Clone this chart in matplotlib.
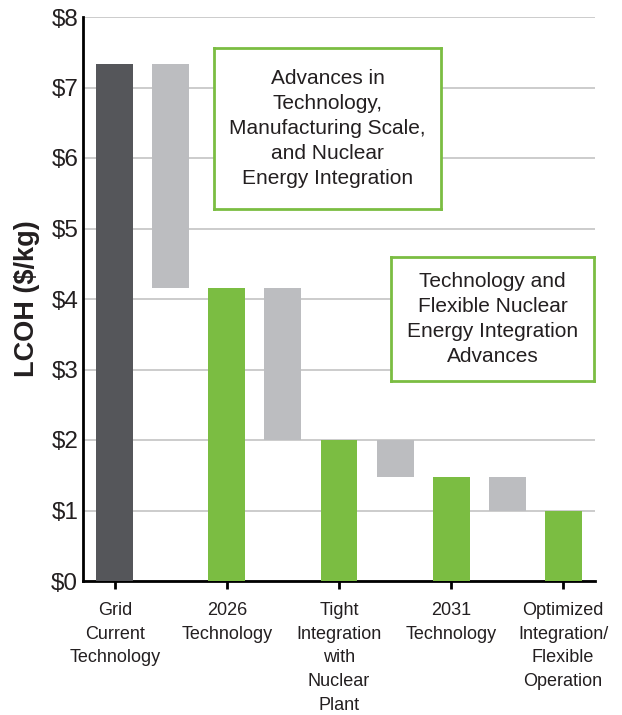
import matplotlib
matplotlib.use("Agg")
import matplotlib.pyplot as plt

categories = ["Grid\nCurrent\nTechnology", "", "2026\nTechnology", "",
              "Tight\nIntegration\nwith\nNuclear\nPlant", "", "2031\nTechnology", "",
              "Optimized\nIntegration/\nFlexible\nOperation"]
tops = [7.33, 7.33, 4.16, 4.16, 2.00, 2.00, 1.48, 1.48, 1.00]
bottoms = [0, 4.16, 0, 2.00, 0, 1.48, 0, 1.00, 0]
kinds = ["base", "step", "total", "step", "total", "step", "total", "step", "total"]
yticks = [0, 1, 2, 3, 4, 5, 6, 7, 8]
ytick_labels = ["$0", "$1", "$2", "$3", "$4", "$5", "$6", "$7", "$8"]
box1_text = "Advances in\nTechnology,\nManufacturing Scale,\nand Nuclear\nEnergy Integration"
box2_text = "Technology and\nFlexible Nuclear\nEnergy Integration\nAdvances"

colors = {"base": "#55565a", "step": "#bcbdc0", "total": "#7bbd42"}

plt.rcParams['font.family'] = ['Liberation Sans', 'DejaVu Sans']
fig = plt.figure(figsize=(6.22, 7.15), dpi=100)
ax = fig.add_axes([83/622, 1-581/715, (595-83)/622, (581-17)/715])

x = list(range(len(tops)))
heights = [t - b for t, b in zip(tops, bottoms)]
ax.bar(x, heights, bottom=bottoms, width=0.66,
       color=[colors[k] for k in kinds], zorder=3)

ax.set_xlim(-0.57, len(tops) - 1 + 0.57)
ax.set_ylim(0, 8)
ax.set_yticks(yticks)
ax.set_yticklabels(ytick_labels, fontsize=17.5, color="#231f20")
ax.set_xticks(x[::2])
ax.set_xticklabels(categories[::2], fontsize=13, linespacing=1.52, va="top",
                   color="#231f20")
ax.tick_params(axis="x", length=6, width=2, pad=9)
ax.tick_params(axis="y", length=0, pad=3.5)
ax.yaxis.grid(True, color="#c8c8c8", linewidth=1.3, zorder=0)
ax.set_axisbelow(True)
for s in ["top", "right"]:
    ax.spines[s].set_visible(False)
ax.spines["left"].set_linewidth(2)
ax.spines["bottom"].set_linewidth(2)
ax.set_ylabel("LCOH ($/kg)", fontsize=19.5, fontweight="bold", labelpad=8,
              color="#231f20")

def box(x0, y0, x1, y1, text):
    bx = fig.add_axes([x0/622, 1-y1/715, (x1-x0)/622, (y1-y0)/715])
    bx.set_xticks([]); bx.set_yticks([])
    bx.patch.set_facecolor("white")
    for s in bx.spines.values():
        s.set_color("#7bbd42"); s.set_linewidth(2)
    bx.text(0.5, 0.5, text, ha="center", va="center", fontsize=15,
            linespacing=1.41, transform=bx.transAxes, color="#231f20")

box(214, 48, 441, 209, box1_text)
box(391, 257, 594, 381, box2_text)

fig.savefig("out.png", dpi=100)
